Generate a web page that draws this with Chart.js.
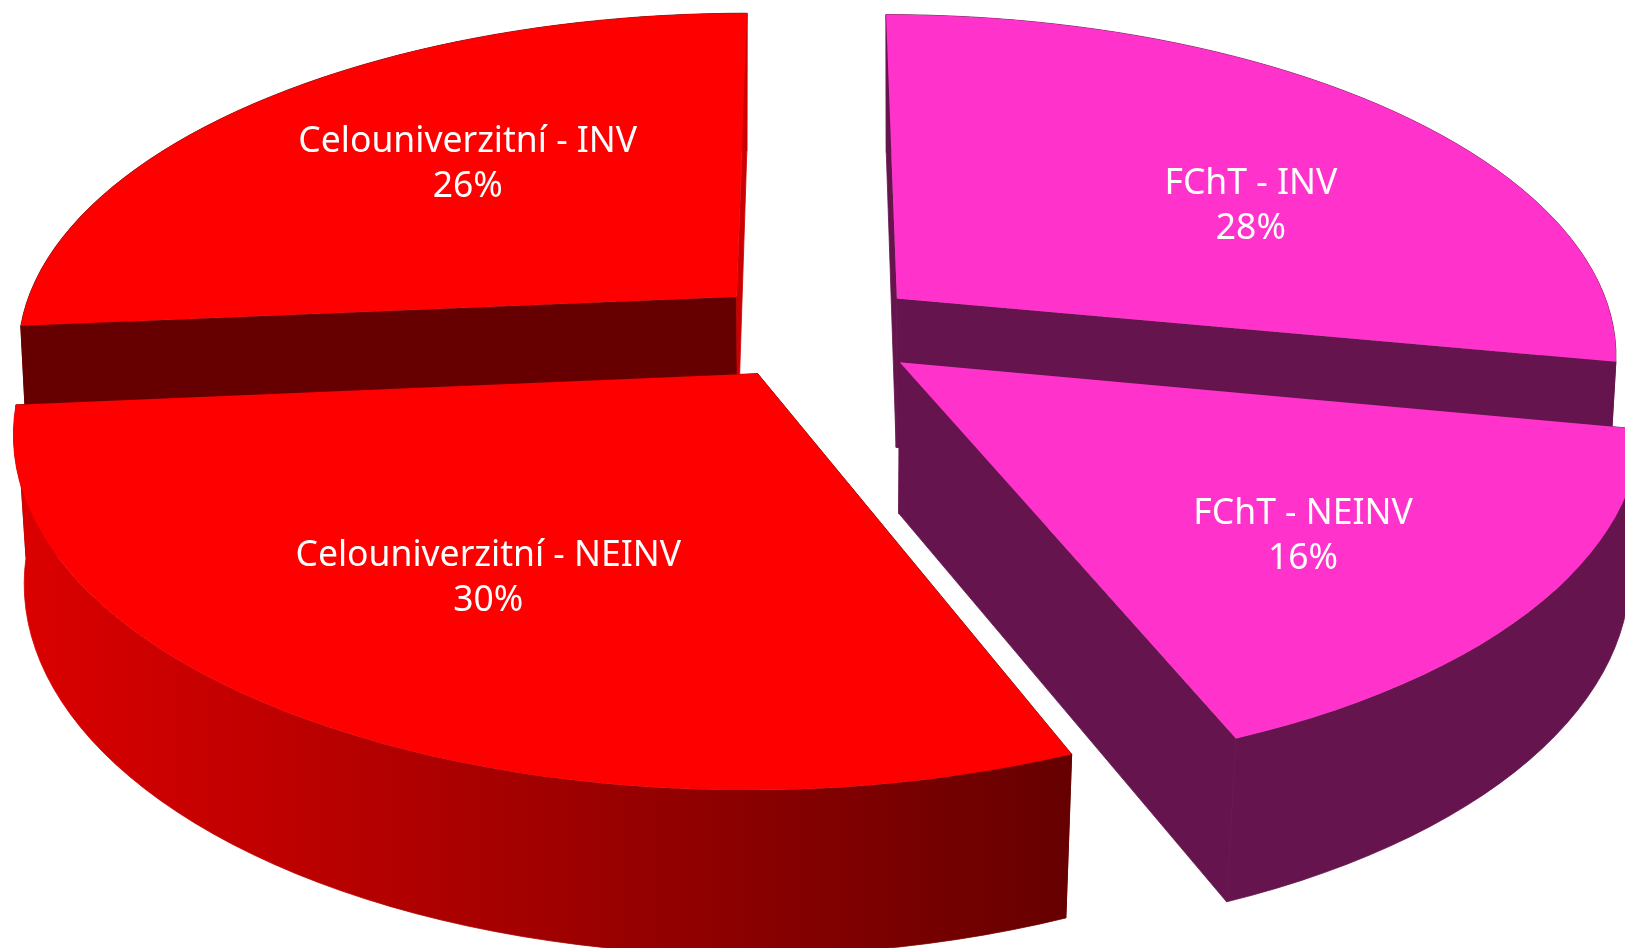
<!DOCTYPE html>
<html>
<head>
<meta charset="utf-8">
<style>
  html, body { margin: 0; padding: 0; background: #fff; overflow: hidden; }
  canvas { display: block; }
</style>
<script src="https://cdn.jsdelivr.net/npm/chart.js@4"></script>
</head>
<body>
<canvas id="chart-1" width="1625" height="948"></canvas>
<script>
// data, clockwise from 12 o'clock
const CATEGORIES = ['FChT - INV', 'FChT - NEINV', 'Celouniverzitní - NEINV', 'Celouniverzitní - INV'];
const PERCENTS = [28, 15.85, 29.75, 26.4];

const SLICE_COLORS = ['#ff33cc', '#ff33cc', '#ff0000', '#ff0000'];
const WALL_COLORS = ['#66144d', '#66144d', '#660000', '#660000'];
const END_WALL_COLORS = ['#66144d', '#66144d', '#660000', '#cc0000'];
const LABEL_U = [0.643, 0.62, -0.408, -0.523];
const LABEL_V = [-0.392, 0.559, 0.66, -0.5345];
const DRAW_ORDER = [3, 0, 1, 2];

// the 3D view of the pie plane
const VIEW = { cx: 815, cy: 330, rx: 719, ry: 337, persp: 0.155, depth: 150, depthPersp: 0.08, explodeX: 1.11, explodeY: 1.1 };

function project(u, v, lowered) {
  const w = 1 - VIEW.persp * v;
  let x = VIEW.cx + VIEW.rx * u / w;
  let y = VIEW.cy + VIEW.ry * v / w;
  if (lowered) {
    x = VIEW.cx + (x - VIEW.cx) * (0.99 - 0.012 * v);
    y += VIEW.depth / (1 - VIEW.depthPersp * v);
  }
  return [x, y];
}

function fillPoints(ctx, points, color, closeSeams) {
  ctx.beginPath();
  points.forEach((p, i) => (i ? ctx.lineTo(p[0], p[1]) : ctx.moveTo(p[0], p[1])));
  ctx.closePath();
  ctx.fillStyle = color;
  ctx.fill();
  if (closeSeams) {
    ctx.strokeStyle = color;
    ctx.lineWidth = 0.8;
    ctx.stroke();
  }
}

function drawSlice(ctx, arc, i) {
  const e = arc.options.offset / arc.outerRadius;
  const mid = (arc.startAngle + arc.endAngle) / 2;
  const ou = e * VIEW.explodeX * Math.cos(mid);
  const ov = e * VIEW.explodeY * Math.sin(mid);
  const steps = Math.ceil((arc.endAngle - arc.startAngle) / (Math.PI / 90));

  const rim = [];
  for (let s = 0; s <= steps; s++) {
    const a = arc.startAngle + (arc.endAngle - arc.startAngle) * s / steps;
    rim.push([ou + Math.cos(a), ov + Math.sin(a)]);
  }
  const apex = [ou, ov];
  const top = (p) => project(p[0], p[1], false);
  const low = (p) => project(p[0], p[1], true);
  const first = rim[0];
  const last = rim[rim.length - 1];

  const cutFaces = () => {
    fillPoints(ctx, [top(apex), top(first), low(first), low(apex)], WALL_COLORS[i], true);
    fillPoints(ctx, [top(apex), top(last), low(last), low(apex)], END_WALL_COLORS[i], true);
  };
  const outerWall = () => {
    let color = WALL_COLORS[i];
    // only the big red slice is shaded across its width
    if (i === 2) {
      color = ctx.createLinearGradient(top(last)[0], 0, top(first)[0], 0);
      color.addColorStop(0, '#dc0000');
      color.addColorStop(1, '#660000');
    }
    fillPoints(ctx, rim.map(top).concat(rim.map(low).reverse()), color, true);
  };

  // back slices show their cut faces in front of the rim, front slices the other way
  if (Math.sin(mid) < 0) {
    outerWall();
    cutFaces();
  } else {
    cutFaces();
    outerWall();
  }

  fillPoints(ctx, [top(apex)].concat(rim.map(top)), arc.options.backgroundColor);
}

const pie3d = {
  id: 'pie3d',
  beforeDatasetsDraw(chart) {
    const ctx = chart.ctx;
    const arcs = chart.getDatasetMeta(0).data;
    ctx.save();
    DRAW_ORDER.forEach(i => drawSlice(ctx, arcs[i], i));

    ctx.fillStyle = '#fff';
    ctx.font = '35.5px "Noto Sans"';
    ctx.textAlign = 'center';
    ctx.textBaseline = 'middle';
    CATEGORIES.forEach((name, i) => {
      const p = project(LABEL_U[i], LABEL_V[i], false);
      ctx.fillText(name, p[0], p[1] - 22);
      ctx.fillText(Math.round(PERCENTS[i]) + '%', p[0], p[1] + 23);
    });
    ctx.restore();
    return false; // flat arcs are not wanted
  }
};

new Chart(document.getElementById('chart-1').getContext('2d'), {
  type: 'pie',
  data: {
    labels: CATEGORIES,
    datasets: [{
      data: PERCENTS,
      backgroundColor: SLICE_COLORS,
      borderWidth: 0,
      offset: 60
    }]
  },
  options: {
    responsive: false,
    animation: false,
    plugins: { legend: { display: false }, tooltip: { enabled: false } }
  },
  plugins: [pie3d]
});
</script>
</body>
</html>
